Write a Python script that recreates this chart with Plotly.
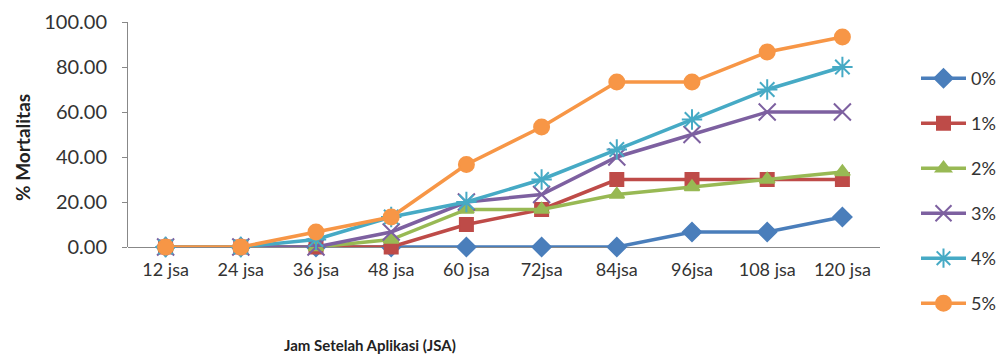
import plotly.graph_objects as go

categories = ["12 jsa", "24 jsa", "36 jsa", "48 jsa", "60 jsa", "72jsa", "84jsa", "96jsa", "108 jsa", "120 jsa"]
series_names = ["0%", "1%", "2%", "3%", "4%", "5%"]
s0 = [0, 0, 0, 0, 0, 0, 0, 6.67, 6.67, 13.33]
s1 = [0, 0, 0, 0, 10.00, 16.67, 30.00, 30.00, 30.00, 30.00]
s2 = [0, 0, 0, 3.33, 16.67, 16.67, 23.33, 26.67, 30.00, 33.33]
s3 = [0, 0, 0, 6.67, 20.00, 23.33, 40.00, 50.00, 60.00, 60.00]
s4 = [0, 0, 3.33, 13.33, 20.00, 30.00, 43.33, 56.67, 70.00, 80.00]
s5 = [0, 0, 6.67, 13.33, 36.67, 53.33, 73.33, 73.33, 86.67, 93.33]
values = [s0, s1, s2, s3, s4, s5]

colors = ["#4A7EBB", "#BE4B48", "#98B954", "#7D60A0", "#46AAC5", "#F79646"]
symbols = ["diamond", "square", "triangle-up", "x-thin-open", "asterisk-open", "circle"]
sizes = [14, 13, 13, 17, 17, 15]

L, R, T, B = 128, 128, 22, 111
W, H = 1008, 358
pw, ph = W - L - R, H - T - B

fig = go.Figure()
for name, vals, c, sym, sz in zip(series_names, values, colors, symbols, sizes):
    fig.add_trace(go.Scatter(
        x=categories, y=vals, name=name, mode="lines+markers",
        legendgroup=name,
        line=dict(color=c, width=3.5),
        marker=dict(symbol=sym, size=sz, color=c, line=dict(color=c, width=2)),
        cliponaxis=False,
    ))

font_family = "Lato, 'Open Sans', sans-serif"
fig.update_layout(
    width=W, height=H,
    margin=dict(l=L, r=R, t=T, b=B, autoexpand=False),
    paper_bgcolor="white", plot_bgcolor="white",
    font=dict(family=font_family, size=18, color="#333333"),
    showlegend=True,
    legend=dict(
        x=(916 - L) / pw, y=(H - B - 60) / ph, xanchor="left", yanchor="top",
        traceorder="grouped", tracegroupgap=18.6, maxheight=340,
        itemwidth=45, font=dict(size=18, color="#333333"),
        bgcolor="rgba(0,0,0,0)",
    ),
    xaxis=dict(
        type="category", range=[-0.5, 9.5],
        showgrid=False, showline=False, zeroline=False,
        ticks="", ticklabelstandoff=10, tickfont=dict(size=18, color="#333333"),
    ),
    yaxis=dict(
        range=[0, 100], tickvals=[0, 20, 40, 60, 80, 100],
        tickformat=".2f", showgrid=False, showline=True,
        linecolor="#888888", linewidth=1, ticks="outside", ticklen=5,
        tickcolor="#888888", zeroline=True, zerolinecolor="#888888",
        zerolinewidth=1, ticklabelstandoff=11, tickfont=dict(size=20, color="#333333"),
    ),
    annotations=[
        dict(text="<b>Jam Setelah Aplikasi (JSA)</b>", x=(370 - L) / pw, xref="paper",
             xanchor="center", y=(H - B - 345) / ph, yref="paper", yanchor="middle",
             showarrow=False, font=dict(size=15, color="#222222")),
        dict(text="<b>% Mortalitas</b>", x=(22 - L) / pw, xref="paper", xanchor="center",
             y=(H - B - 148) / ph, yref="paper", yanchor="middle", textangle=-90,
             showarrow=False, font=dict(size=19, color="#222222")),
    ],
)
fig.write_html("out.html")
